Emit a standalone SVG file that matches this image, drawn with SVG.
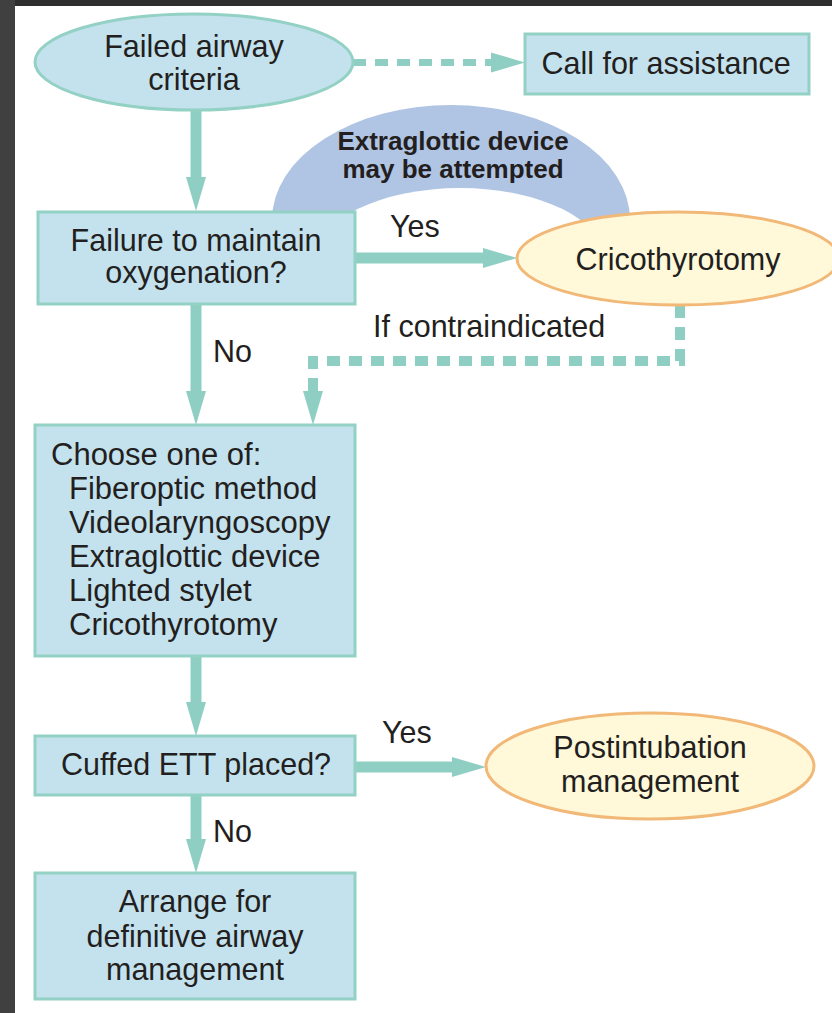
<svg xmlns="http://www.w3.org/2000/svg" width="832" height="1013" viewBox="0 0 832 1013">
<style>
  .box { fill: #c4e2ee; stroke: #93d1c4; stroke-width: 3; }
  .term { fill: #fff8d9; stroke: #f1b877; stroke-width: 3; }
  .t { font-family: "Liberation Sans", Arial, sans-serif; font-size: 30.5px; fill: #231f20; }
  .l { font-size: 31px; }
  .c { text-anchor: middle; }
  .tb { font-family: "Liberation Sans", Arial, sans-serif; font-size: 26px; font-weight: bold; fill: #231f20; text-anchor: middle; }
  .solid { fill: none; stroke: #8fcfc3; stroke-width: 11; }
  .dash { fill: none; stroke: #8fcfc3; stroke-width: 10; stroke-dasharray: 13 9; }
  .dashthin { fill: none; stroke: #8fcfc3; stroke-width: 7; stroke-dasharray: 13 9; }
</style>
<defs>
  <marker id="ah" markerUnits="userSpaceOnUse" markerWidth="36" markerHeight="22" refX="0" refY="10" orient="auto" viewBox="0 0 36 20" overflow="visible">
    <path d="M0,0 L34,10 L0,20 Z" fill="#8fcfc3"/>
  </marker>
  <mask id="domeMask" maskUnits="userSpaceOnUse" x="0" y="0" width="832" height="1013">
    <rect x="0" y="0" width="832" height="221" fill="#fff"/>
    <ellipse cx="460" cy="260" rx="145" ry="72" fill="#000"/>
  </mask>
</defs>

<!-- background frame -->
<rect x="0" y="0" width="832" height="1013" fill="#ffffff"/>
<rect x="0" y="0" width="832" height="6" fill="#2e2e2e"/>
<rect x="0" y="0" width="15" height="1013" fill="#404040"/>

<!-- annotation dome -->
<g id="dome">
  <ellipse cx="451" cy="220" rx="179" ry="115" fill="#b0c4e4" mask="url(#domeMask)"/>
  <text class="tb" x="453" y="150">Extraglottic device</text>
  <text class="tb" x="453" y="178">may be attempted</text>
</g>

<g id="connectors">
  <path class="dashthin" d="M353 62.5 H491" marker-end="url(#ah)"/>
  <path class="solid" d="M196 110 V177" marker-end="url(#ah)"/>
  <path class="solid" d="M355 258 H483" marker-end="url(#ah)"/>
  <path class="dash" d="M680 305 V361 H313 V391" marker-end="url(#ah)"/>
  <path class="solid" d="M196 304 V391" marker-end="url(#ah)"/>
  <path class="solid" d="M196 656 V702" marker-end="url(#ah)"/>
  <path class="solid" d="M355 767 H452" marker-end="url(#ah)"/>
  <path class="solid" d="M196 795 V839" marker-end="url(#ah)"/>
  <text class="t" x="390" y="237">Yes</text>
  <text class="t" x="373" y="337">If contraindicated</text>
  <text class="t" x="213" y="362">No</text>
  <text class="t" x="382" y="743">Yes</text>
  <text class="t" x="213" y="842">No</text>
</g>

<g id="failed-airway">
  <ellipse class="box" cx="194" cy="62" rx="159" ry="48"/>
  <text class="t c" x="194" y="57">Failed airway</text>
  <text class="t c" x="194" y="90">criteria</text>
</g>

<g id="call-assistance">
  <rect class="box" x="525" y="34" width="284" height="60"/>
  <text class="t c" x="666" y="74">Call for assistance</text>
</g>

<g id="failure-oxygenation">
  <rect class="box" x="38" y="212" width="317" height="92"/>
  <text class="t c" x="196" y="251">Failure to maintain</text>
  <text class="t c" x="196" y="283">oxygenation?</text>
</g>

<g id="cricothyrotomy">
  <ellipse class="term" cx="678" cy="258.5" rx="161" ry="46.5"/>
  <text class="t c" x="678" y="270">Cricothyrotomy</text>
</g>

<g id="choose-one">
  <rect class="box" x="35" y="425" width="320" height="231"/>
  <text class="t l" x="51" y="465">Choose one of:</text>
  <text class="t l" x="69" y="499">Fiberoptic method</text>
  <text class="t l" x="69" y="533">Videolaryngoscopy</text>
  <text class="t l" x="69" y="567">Extraglottic device</text>
  <text class="t l" x="69" y="601">Lighted stylet</text>
  <text class="t l" x="69" y="635">Cricothyrotomy</text>
</g>

<g id="cuffed-ett">
  <rect class="box" x="35" y="736" width="320" height="59"/>
  <text class="t c" x="196" y="775">Cuffed ETT placed?</text>
</g>

<g id="postintubation">
  <ellipse class="term" cx="650" cy="766" rx="164" ry="53"/>
  <text class="t c" x="650" y="758">Postintubation</text>
  <text class="t c" x="650" y="792">management</text>
</g>

<g id="arrange-definitive">
  <rect class="box" x="35" y="873" width="320" height="126"/>
  <text class="t c" x="195" y="912">Arrange for</text>
  <text class="t c" x="195" y="947">definitive airway</text>
  <text class="t c" x="195" y="980">management</text>
</g>
</svg>
